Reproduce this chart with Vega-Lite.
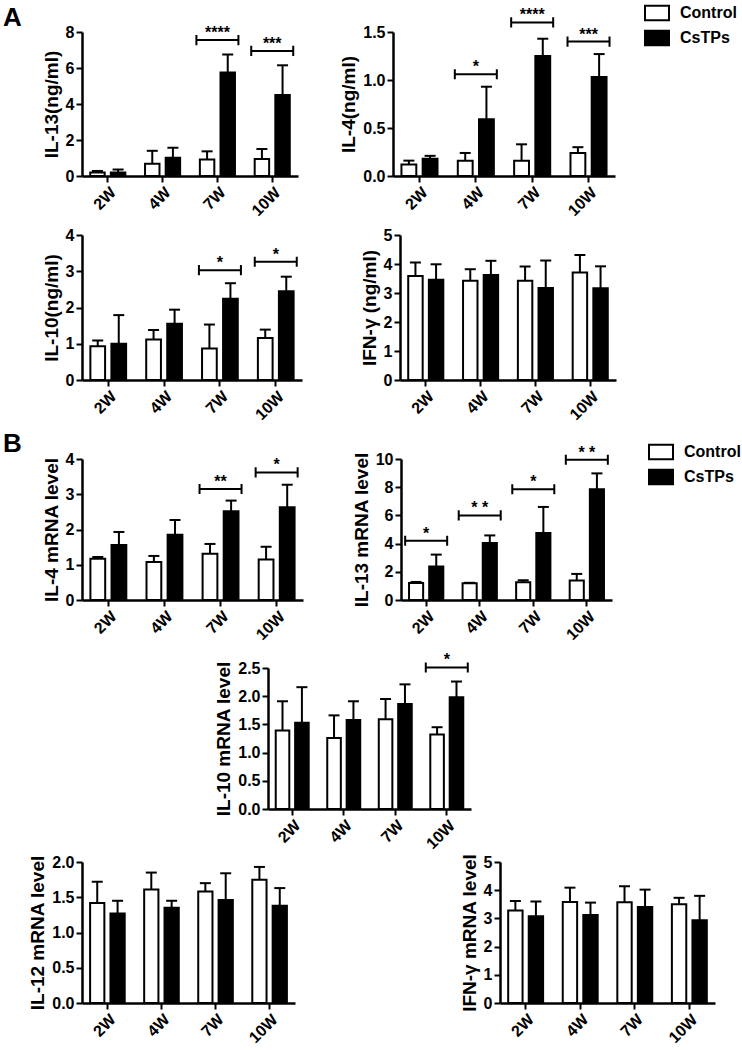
{
 "$schema": "https://vega.github.io/schema/vega-lite/v6.json",
 "padding": {"left": 3, "top": 0, "right": 0, "bottom": 0},
 "background": "white",
 "config": {
  "font": "Liberation Sans",
  "view": {"stroke": null},
  "axis": {"domainColor": "black", "domainWidth": 2.5, "tickColor": "black", "tickWidth": 2, "tickSize": 6, "labelFont": "Liberation Sans", "labelFontSize": 16, "labelFontWeight": "bold", "labelColor": "black", "labelPadding": 2, "labelOverlap": false, "labelFlush": false, "titleFont": "Liberation Sans", "titleFontSize": 19, "titleFontWeight": "bold", "titleColor": "black", "titlePadding": 4, "grid": false},
  "axisX": {"labelAngle": -45},
  "legend": {"symbolType": "M-1,-0.6H1V0.6H-1Z", "symbolSize": 576, "symbolStrokeColor": "black", "symbolStrokeWidth": 2, "labelFont": "Liberation Sans", "labelFontSize": 16, "labelFontWeight": "bold", "labelColor": "black", "rowPadding": 0, "labelOffset": 10, "padding": 0},
  "title": {"font": "Liberation Sans", "fontSize": 26, "fontWeight": "bold", "color": "black", "anchor": "start", "frame": "group", "offset": 0, "baseline": "alphabetic"}
 },
 "datasets": {
  "d": [
   {"panel": "a1", "week": "2W", "group": "Control", "mean": 0.2, "hi": 0.28},
   {"panel": "a1", "week": "2W", "group": "CsTPs", "mean": 0.2, "hi": 0.36},
   {"panel": "a1", "week": "4W", "group": "Control", "mean": 0.68, "hi": 1.4},
   {"panel": "a1", "week": "4W", "group": "CsTPs", "mean": 1.02, "hi": 1.57},
   {"panel": "a1", "week": "7W", "group": "Control", "mean": 0.92, "hi": 1.37},
   {"panel": "a1", "week": "7W", "group": "CsTPs", "mean": 5.75, "hi": 6.75, "bracket": 7.55, "stars": "****"},
   {"panel": "a1", "week": "10W", "group": "Control", "mean": 0.95, "hi": 1.5},
   {"panel": "a1", "week": "10W", "group": "CsTPs", "mean": 4.5, "hi": 6.15, "bracket": 6.95, "stars": "***"},

   {"panel": "a2", "week": "2W", "group": "Control", "mean": 0.12, "hi": 0.16},
   {"panel": "a2", "week": "2W", "group": "CsTPs", "mean": 0.18, "hi": 0.21},
   {"panel": "a2", "week": "4W", "group": "Control", "mean": 0.16, "hi": 0.24},
   {"panel": "a2", "week": "4W", "group": "CsTPs", "mean": 0.59, "hi": 0.93, "bracket": 1.06, "stars": "*"},
   {"panel": "a2", "week": "7W", "group": "Control", "mean": 0.16, "hi": 0.33},
   {"panel": "a2", "week": "7W", "group": "CsTPs", "mean": 1.25, "hi": 1.43, "bracket": 1.6, "stars": "****"},
   {"panel": "a2", "week": "10W", "group": "Control", "mean": 0.24, "hi": 0.3},
   {"panel": "a2", "week": "10W", "group": "CsTPs", "mean": 1.03, "hi": 1.27, "bracket": 1.4, "stars": "***"},

   {"panel": "a3", "week": "2W", "group": "Control", "mean": 0.93, "hi": 1.09},
   {"panel": "a3", "week": "2W", "group": "CsTPs", "mean": 1.0, "hi": 1.79},
   {"panel": "a3", "week": "4W", "group": "Control", "mean": 1.12, "hi": 1.38},
   {"panel": "a3", "week": "4W", "group": "CsTPs", "mean": 1.55, "hi": 1.94},
   {"panel": "a3", "week": "7W", "group": "Control", "mean": 0.87, "hi": 1.53},
   {"panel": "a3", "week": "7W", "group": "CsTPs", "mean": 2.24, "hi": 2.67, "bracket": 3.03, "stars": "*"},
   {"panel": "a3", "week": "10W", "group": "Control", "mean": 1.16, "hi": 1.39},
   {"panel": "a3", "week": "10W", "group": "CsTPs", "mean": 2.45, "hi": 2.85, "bracket": 3.26, "stars": "*"},

   {"panel": "a4", "week": "2W", "group": "Control", "mean": 3.59, "hi": 4.05},
   {"panel": "a4", "week": "2W", "group": "CsTPs", "mean": 3.46, "hi": 3.99},
   {"panel": "a4", "week": "4W", "group": "Control", "mean": 3.42, "hi": 3.82},
   {"panel": "a4", "week": "4W", "group": "CsTPs", "mean": 3.62, "hi": 4.11},
   {"panel": "a4", "week": "7W", "group": "Control", "mean": 3.42, "hi": 3.91},
   {"panel": "a4", "week": "7W", "group": "CsTPs", "mean": 3.17, "hi": 4.12},
   {"panel": "a4", "week": "10W", "group": "Control", "mean": 3.71, "hi": 4.31},
   {"panel": "a4", "week": "10W", "group": "CsTPs", "mean": 3.16, "hi": 3.92},

   {"panel": "b1", "week": "2W", "group": "Control", "mean": 1.17, "hi": 1.22},
   {"panel": "b1", "week": "2W", "group": "CsTPs", "mean": 1.56, "hi": 1.93},
   {"panel": "b1", "week": "4W", "group": "Control", "mean": 1.08, "hi": 1.25},
   {"panel": "b1", "week": "4W", "group": "CsTPs", "mean": 1.85, "hi": 2.27},
   {"panel": "b1", "week": "7W", "group": "Control", "mean": 1.31, "hi": 1.59},
   {"panel": "b1", "week": "7W", "group": "CsTPs", "mean": 2.52, "hi": 2.82, "bracket": 3.15, "stars": "**"},
   {"panel": "b1", "week": "10W", "group": "Control", "mean": 1.15, "hi": 1.51},
   {"panel": "b1", "week": "10W", "group": "CsTPs", "mean": 2.63, "hi": 3.27, "bracket": 3.62, "stars": "*"},

   {"panel": "b2", "week": "2W", "group": "Control", "mean": 1.2, "hi": 1.28},
   {"panel": "b2", "week": "2W", "group": "CsTPs", "mean": 2.37, "hi": 3.22, "bracket": 4.2, "stars": "*"},
   {"panel": "b2", "week": "4W", "group": "Control", "mean": 1.18, "hi": 1.22},
   {"panel": "b2", "week": "4W", "group": "CsTPs", "mean": 4.05, "hi": 4.58, "bracket": 6.0, "stars": "* *"},
   {"panel": "b2", "week": "7W", "group": "Control", "mean": 1.26, "hi": 1.4},
   {"panel": "b2", "week": "7W", "group": "CsTPs", "mean": 4.76, "hi": 6.6, "bracket": 7.85, "stars": "*"},
   {"panel": "b2", "week": "10W", "group": "Control", "mean": 1.38, "hi": 1.85},
   {"panel": "b2", "week": "10W", "group": "CsTPs", "mean": 7.85, "hi": 8.98, "bracket": 9.95, "stars": "* *"},

   {"panel": "b3", "week": "2W", "group": "Control", "mean": 1.39, "hi": 1.91},
   {"panel": "b3", "week": "2W", "group": "CsTPs", "mean": 1.53, "hi": 2.16},
   {"panel": "b3", "week": "4W", "group": "Control", "mean": 1.26, "hi": 1.66},
   {"panel": "b3", "week": "4W", "group": "CsTPs", "mean": 1.58, "hi": 1.91},
   {"panel": "b3", "week": "7W", "group": "Control", "mean": 1.59, "hi": 1.95},
   {"panel": "b3", "week": "7W", "group": "CsTPs", "mean": 1.86, "hi": 2.21},
   {"panel": "b3", "week": "10W", "group": "Control", "mean": 1.32, "hi": 1.45},
   {"panel": "b3", "week": "10W", "group": "CsTPs", "mean": 1.98, "hi": 2.26, "bracket": 2.51, "stars": "*"},

   {"panel": "b4", "week": "2W", "group": "Control", "mean": 1.42, "hi": 1.72},
   {"panel": "b4", "week": "2W", "group": "CsTPs", "mean": 1.27, "hi": 1.45},
   {"panel": "b4", "week": "4W", "group": "Control", "mean": 1.61, "hi": 1.85},
   {"panel": "b4", "week": "4W", "group": "CsTPs", "mean": 1.35, "hi": 1.45},
   {"panel": "b4", "week": "7W", "group": "Control", "mean": 1.58, "hi": 1.7},
   {"panel": "b4", "week": "7W", "group": "CsTPs", "mean": 1.46, "hi": 1.84},
   {"panel": "b4", "week": "10W", "group": "Control", "mean": 1.75, "hi": 1.93},
   {"panel": "b4", "week": "10W", "group": "CsTPs", "mean": 1.38, "hi": 1.63},

   {"panel": "b5", "week": "2W", "group": "Control", "mean": 3.28, "hi": 3.62},
   {"panel": "b5", "week": "2W", "group": "CsTPs", "mean": 3.08, "hi": 3.6},
   {"panel": "b5", "week": "4W", "group": "Control", "mean": 3.58, "hi": 4.09},
   {"panel": "b5", "week": "4W", "group": "CsTPs", "mean": 3.12, "hi": 3.56},
   {"panel": "b5", "week": "7W", "group": "Control", "mean": 3.57, "hi": 4.14},
   {"panel": "b5", "week": "7W", "group": "CsTPs", "mean": 3.4, "hi": 4.02},
   {"panel": "b5", "week": "10W", "group": "Control", "mean": 3.5, "hi": 3.73},
   {"panel": "b5", "week": "10W", "group": "CsTPs", "mean": 2.93, "hi": 3.8}
  ]
 },
 "resolve": {"scale": {"fill": "independent", "xOffset": "independent"}, "legend": {"fill": "independent"}},
 "spacing": 8,
 "vconcat": [
  {
   "hconcat": [
    {
     "width": 216, "height": 144,
     "title": {"text": "A", "dx": -79, "dy": 11},
     "data": {"name": "d"},
     "transform": [{"filter": "datum.panel === 'a1'"}],
     "encoding": {
      "x": {"field": "week", "type": "nominal", "sort": ["2W", "4W", "7W", "10W"], "scale": {"paddingInner": 0.36, "paddingOuter": 0.15}, "axis": {"title": null}},
      "y": {"field": "mean", "type": "quantitative", "scale": {"domain": [0, 8], "nice": false}, "axis": {"values": [0, 2, 4, 6, 8]}, "title": "IL-13(ng/ml)"}
     },
     "layer": [
      {"mark": {"type": "bar", "stroke": "black", "strokeWidth": 2}, "encoding": {"xOffset": {"field": "group", "type": "nominal", "sort": ["Control", "CsTPs"], "scale": {"paddingInner": 0.3, "paddingOuter": 0}}, "fill": {"field": "group", "type": "nominal", "scale": {"domain": ["Control", "CsTPs"], "range": ["white", "black"]}, "legend": null}}},
      {"mark": {"type": "rule", "color": "black", "strokeWidth": 2}, "encoding": {"xOffset": {"field": "group", "type": "nominal", "sort": ["Control", "CsTPs"], "scale": {"paddingInner": 0.3, "paddingOuter": 0}}, "y2": {"field": "hi"}}},
      {"mark": {"type": "tick", "color": "black", "thickness": 2, "size": 11, "opacity": 1}, "encoding": {"xOffset": {"field": "group", "type": "nominal", "sort": ["Control", "CsTPs"], "scale": {"paddingInner": 0.3, "paddingOuter": 0}}, "y": {"field": "hi", "type": "quantitative", "scale": {"domain": [0, 8], "nice": false}, "axis": {"values": [0, 2, 4, 6, 8]}, "title": "IL-13(ng/ml)"}}},
      {"transform": [{"filter": "isValid(datum.bracket)"}], "mark": {"type": "point", "shape": "M-1,-0.24V0.24M-1,0H1M1,-0.24V0.24", "size": 1764, "color": "black", "strokeWidth": 2, "filled": false, "opacity": 1}, "encoding": {"y": {"field": "bracket", "type": "quantitative", "scale": {"domain": [0, 8], "nice": false}, "axis": {"values": [0, 2, 4, 6, 8]}, "title": "IL-13(ng/ml)"}}},
      {"transform": [{"filter": "isValid(datum.bracket)"}], "mark": {"type": "text", "font": "Liberation Sans", "fontSize": 16, "fontWeight": "bold", "color": "black", "baseline": "alphabetic", "dy": -2}, "encoding": {"y": {"field": "bracket", "type": "quantitative", "scale": {"domain": [0, 8], "nice": false}, "axis": {"values": [0, 2, 4, 6, 8]}, "title": "IL-13(ng/ml)"}, "text": {"field": "stars"}}}
     ]
    },
    {
     "width": 222, "height": 144,
     "data": {"name": "d"},
     "transform": [{"filter": "datum.panel === 'a2'"}],
     "encoding": {
      "x": {"field": "week", "type": "nominal", "sort": ["2W", "4W", "7W", "10W"], "scale": {"paddingInner": 0.36, "paddingOuter": 0.15}, "axis": {"title": null}},
      "y": {"field": "mean", "type": "quantitative", "scale": {"domain": [0, 1.5], "nice": false}, "axis": {"values": [0, 0.5, 1, 1.5], "format": ".1f"}, "title": "IL-4(ng/ml)"}
     },
     "layer": [
      {"mark": {"type": "bar", "stroke": "black", "strokeWidth": 2}, "encoding": {"xOffset": {"field": "group", "type": "nominal", "sort": ["Control", "CsTPs"], "scale": {"paddingInner": 0.3, "paddingOuter": 0}}, "fill": {"field": "group", "type": "nominal", "scale": {"domain": ["Control", "CsTPs"], "range": ["white", "black"]}, "legend": {"title": null, "orient": "none", "legendX": 251, "legendY": -32}}}},
      {"mark": {"type": "rule", "color": "black", "strokeWidth": 2}, "encoding": {"xOffset": {"field": "group", "type": "nominal", "sort": ["Control", "CsTPs"], "scale": {"paddingInner": 0.3, "paddingOuter": 0}}, "y2": {"field": "hi"}}},
      {"mark": {"type": "tick", "color": "black", "thickness": 2, "size": 11, "opacity": 1}, "encoding": {"xOffset": {"field": "group", "type": "nominal", "sort": ["Control", "CsTPs"], "scale": {"paddingInner": 0.3, "paddingOuter": 0}}, "y": {"field": "hi", "type": "quantitative", "scale": {"domain": [0, 1.5], "nice": false}, "axis": {"values": [0, 0.5, 1, 1.5], "format": ".1f"}, "title": "IL-4(ng/ml)"}}},
      {"transform": [{"filter": "isValid(datum.bracket)"}], "mark": {"type": "point", "shape": "M-1,-0.24V0.24M-1,0H1M1,-0.24V0.24", "size": 1764, "color": "black", "strokeWidth": 2, "filled": false, "opacity": 1}, "encoding": {"y": {"field": "bracket", "type": "quantitative", "scale": {"domain": [0, 1.5], "nice": false}, "axis": {"values": [0, 0.5, 1, 1.5], "format": ".1f"}, "title": "IL-4(ng/ml)"}}},
      {"transform": [{"filter": "isValid(datum.bracket)"}], "mark": {"type": "text", "font": "Liberation Sans", "fontSize": 16, "fontWeight": "bold", "color": "black", "baseline": "alphabetic", "dy": -2}, "encoding": {"y": {"field": "bracket", "type": "quantitative", "scale": {"domain": [0, 1.5], "nice": false}, "axis": {"values": [0, 0.5, 1, 1.5], "format": ".1f"}, "title": "IL-4(ng/ml)"}, "text": {"field": "stars"}}}
     ]
    }
   ],
   "spacing": 41,
   "resolve": {"scale": {"fill": "independent", "xOffset": "independent"}, "legend": {"fill": "independent"}}
  },
  {
   "vconcat": [
    {
     "hconcat": [
      {
       "width": 220, "height": 145,
       "data": {"name": "d"},
       "transform": [{"filter": "datum.panel === 'a3'"}],
       "encoding": {
        "x": {"field": "week", "type": "nominal", "sort": ["2W", "4W", "7W", "10W"], "scale": {"paddingInner": 0.36, "paddingOuter": 0.15}, "axis": {"title": null}},
        "y": {"field": "mean", "type": "quantitative", "scale": {"domain": [0, 4], "nice": false}, "axis": {"values": [0, 1, 2, 3, 4]}, "title": "IL-10(ng/ml)"}
       },
       "layer": [
        {"mark": {"type": "bar", "stroke": "black", "strokeWidth": 2}, "encoding": {"xOffset": {"field": "group", "type": "nominal", "sort": ["Control", "CsTPs"], "scale": {"paddingInner": 0.3, "paddingOuter": 0}}, "fill": {"field": "group", "type": "nominal", "scale": {"domain": ["Control", "CsTPs"], "range": ["white", "black"]}, "legend": null}}},
        {"mark": {"type": "rule", "color": "black", "strokeWidth": 2}, "encoding": {"xOffset": {"field": "group", "type": "nominal", "sort": ["Control", "CsTPs"], "scale": {"paddingInner": 0.3, "paddingOuter": 0}}, "y2": {"field": "hi"}}},
        {"mark": {"type": "tick", "color": "black", "thickness": 2, "size": 11, "opacity": 1}, "encoding": {"xOffset": {"field": "group", "type": "nominal", "sort": ["Control", "CsTPs"], "scale": {"paddingInner": 0.3, "paddingOuter": 0}}, "y": {"field": "hi", "type": "quantitative", "scale": {"domain": [0, 4], "nice": false}, "axis": {"values": [0, 1, 2, 3, 4]}, "title": "IL-10(ng/ml)"}}},
        {"transform": [{"filter": "isValid(datum.bracket)"}], "mark": {"type": "point", "shape": "M-1,-0.24V0.24M-1,0H1M1,-0.24V0.24", "size": 1764, "color": "black", "strokeWidth": 2, "filled": false, "opacity": 1}, "encoding": {"y": {"field": "bracket", "type": "quantitative", "scale": {"domain": [0, 4], "nice": false}, "axis": {"values": [0, 1, 2, 3, 4]}, "title": "IL-10(ng/ml)"}}},
        {"transform": [{"filter": "isValid(datum.bracket)"}], "mark": {"type": "text", "font": "Liberation Sans", "fontSize": 16, "fontWeight": "bold", "color": "black", "baseline": "alphabetic", "dy": -2}, "encoding": {"y": {"field": "bracket", "type": "quantitative", "scale": {"domain": [0, 4], "nice": false}, "axis": {"values": [0, 1, 2, 3, 4]}, "title": "IL-10(ng/ml)"}, "text": {"field": "stars"}}}
       ]
      },
      {
       "width": 216, "height": 145,
       "data": {"name": "d"},
       "transform": [{"filter": "datum.panel === 'a4'"}],
       "encoding": {
        "x": {"field": "week", "type": "nominal", "sort": ["2W", "4W", "7W", "10W"], "scale": {"paddingInner": 0.36, "paddingOuter": 0.15}, "axis": {"title": null}},
        "y": {"field": "mean", "type": "quantitative", "scale": {"domain": [0, 5], "nice": false}, "axis": {"values": [0, 1, 2, 3, 4, 5]}, "title": "IFN-γ (ng/ml)"}
       },
       "layer": [
        {"mark": {"type": "bar", "stroke": "black", "strokeWidth": 2}, "encoding": {"xOffset": {"field": "group", "type": "nominal", "sort": ["Control", "CsTPs"], "scale": {"paddingInner": 0.3, "paddingOuter": 0}}, "fill": {"field": "group", "type": "nominal", "scale": {"domain": ["Control", "CsTPs"], "range": ["white", "black"]}, "legend": null}}},
        {"mark": {"type": "rule", "color": "black", "strokeWidth": 2}, "encoding": {"xOffset": {"field": "group", "type": "nominal", "sort": ["Control", "CsTPs"], "scale": {"paddingInner": 0.3, "paddingOuter": 0}}, "y2": {"field": "hi"}}},
        {"mark": {"type": "tick", "color": "black", "thickness": 2, "size": 11, "opacity": 1}, "encoding": {"xOffset": {"field": "group", "type": "nominal", "sort": ["Control", "CsTPs"], "scale": {"paddingInner": 0.3, "paddingOuter": 0}}, "y": {"field": "hi", "type": "quantitative", "scale": {"domain": [0, 5], "nice": false}, "axis": {"values": [0, 1, 2, 3, 4, 5]}, "title": "IFN-γ (ng/ml)"}}}
       ]
      }
     ],
     "spacing": 58,
     "resolve": {"scale": {"fill": "independent", "xOffset": "independent"}, "legend": {"fill": "independent"}}
    },
    {
     "vconcat": [
      {
       "hconcat": [
        {
         "width": 221, "height": 141,
         "title": {"text": "B", "dx": -79, "dy": 10},
         "data": {"name": "d"},
         "transform": [{"filter": "datum.panel === 'b1'"}],
         "encoding": {
          "x": {"field": "week", "type": "nominal", "sort": ["2W", "4W", "7W", "10W"], "scale": {"paddingInner": 0.36, "paddingOuter": 0.15}, "axis": {"title": null}},
          "y": {"field": "mean", "type": "quantitative", "scale": {"domain": [0, 4], "nice": false}, "axis": {"values": [0, 1, 2, 3, 4]}, "title": "IL-4 mRNA level"}
         },
         "layer": [
          {"mark": {"type": "bar", "stroke": "black", "strokeWidth": 2}, "encoding": {"xOffset": {"field": "group", "type": "nominal", "sort": ["Control", "CsTPs"], "scale": {"paddingInner": 0.3, "paddingOuter": 0}}, "fill": {"field": "group", "type": "nominal", "scale": {"domain": ["Control", "CsTPs"], "range": ["white", "black"]}, "legend": null}}},
          {"mark": {"type": "rule", "color": "black", "strokeWidth": 2}, "encoding": {"xOffset": {"field": "group", "type": "nominal", "sort": ["Control", "CsTPs"], "scale": {"paddingInner": 0.3, "paddingOuter": 0}}, "y2": {"field": "hi"}}},
          {"mark": {"type": "tick", "color": "black", "thickness": 2, "size": 11, "opacity": 1}, "encoding": {"xOffset": {"field": "group", "type": "nominal", "sort": ["Control", "CsTPs"], "scale": {"paddingInner": 0.3, "paddingOuter": 0}}, "y": {"field": "hi", "type": "quantitative", "scale": {"domain": [0, 4], "nice": false}, "axis": {"values": [0, 1, 2, 3, 4]}, "title": "IL-4 mRNA level"}}},
          {"transform": [{"filter": "isValid(datum.bracket)"}], "mark": {"type": "point", "shape": "M-1,-0.24V0.24M-1,0H1M1,-0.24V0.24", "size": 1764, "color": "black", "strokeWidth": 2, "filled": false, "opacity": 1}, "encoding": {"y": {"field": "bracket", "type": "quantitative", "scale": {"domain": [0, 4], "nice": false}, "axis": {"values": [0, 1, 2, 3, 4]}, "title": "IL-4 mRNA level"}}},
          {"transform": [{"filter": "isValid(datum.bracket)"}], "mark": {"type": "text", "font": "Liberation Sans", "fontSize": 16, "fontWeight": "bold", "color": "black", "baseline": "alphabetic", "dy": -2}, "encoding": {"y": {"field": "bracket", "type": "quantitative", "scale": {"domain": [0, 4], "nice": false}, "axis": {"values": [0, 1, 2, 3, 4]}, "title": "IL-4 mRNA level"}, "text": {"field": "stars"}}}
         ]
        },
        {
         "width": 211, "height": 141,
         "data": {"name": "d"},
         "transform": [{"filter": "datum.panel === 'b2'"}],
         "encoding": {
          "x": {"field": "week", "type": "nominal", "sort": ["2W", "4W", "7W", "10W"], "scale": {"paddingInner": 0.36, "paddingOuter": 0.15}, "axis": {"title": null}},
          "y": {"field": "mean", "type": "quantitative", "scale": {"domain": [0, 10], "nice": false}, "axis": {"values": [0, 2, 4, 6, 8, 10]}, "title": "IL-13 mRNA level"}
         },
         "layer": [
          {"mark": {"type": "bar", "stroke": "black", "strokeWidth": 2}, "encoding": {"xOffset": {"field": "group", "type": "nominal", "sort": ["Control", "CsTPs"], "scale": {"paddingInner": 0.3, "paddingOuter": 0}}, "fill": {"field": "group", "type": "nominal", "scale": {"domain": ["Control", "CsTPs"], "range": ["white", "black"]}, "legend": {"title": null, "orient": "none", "legendX": 247, "legendY": -20}}}},
          {"mark": {"type": "rule", "color": "black", "strokeWidth": 2}, "encoding": {"xOffset": {"field": "group", "type": "nominal", "sort": ["Control", "CsTPs"], "scale": {"paddingInner": 0.3, "paddingOuter": 0}}, "y2": {"field": "hi"}}},
          {"mark": {"type": "tick", "color": "black", "thickness": 2, "size": 11, "opacity": 1}, "encoding": {"xOffset": {"field": "group", "type": "nominal", "sort": ["Control", "CsTPs"], "scale": {"paddingInner": 0.3, "paddingOuter": 0}}, "y": {"field": "hi", "type": "quantitative", "scale": {"domain": [0, 10], "nice": false}, "axis": {"values": [0, 2, 4, 6, 8, 10]}, "title": "IL-13 mRNA level"}}},
          {"transform": [{"filter": "isValid(datum.bracket)"}], "mark": {"type": "point", "shape": "M-1,-0.24V0.24M-1,0H1M1,-0.24V0.24", "size": 1764, "color": "black", "strokeWidth": 2, "filled": false, "opacity": 1}, "encoding": {"y": {"field": "bracket", "type": "quantitative", "scale": {"domain": [0, 10], "nice": false}, "axis": {"values": [0, 2, 4, 6, 8, 10]}, "title": "IL-13 mRNA level"}}},
          {"transform": [{"filter": "isValid(datum.bracket)"}], "mark": {"type": "text", "font": "Liberation Sans", "fontSize": 16, "fontWeight": "bold", "color": "black", "baseline": "alphabetic", "dy": -2}, "encoding": {"y": {"field": "bracket", "type": "quantitative", "scale": {"domain": [0, 10], "nice": false}, "axis": {"values": [0, 2, 4, 6, 8, 10]}, "title": "IL-13 mRNA level"}, "text": {"field": "stars"}}}
         ]
        }
       ],
       "spacing": 49,
       "resolve": {"scale": {"fill": "independent", "xOffset": "independent"}, "legend": {"fill": "independent"}}
      },
      {
       "vconcat": [
        {
         "hconcat": [
          {"width": 132, "height": 10, "data": {"values": []}, "mark": {"type": "point", "opacity": 0}},
          {
           "width": 203, "height": 141,
           "data": {"name": "d"},
           "transform": [{"filter": "datum.panel === 'b3'"}],
           "encoding": {
            "x": {"field": "week", "type": "nominal", "sort": ["2W", "4W", "7W", "10W"], "scale": {"paddingInner": 0.36, "paddingOuter": 0.15}, "axis": {"title": null}},
            "y": {"field": "mean", "type": "quantitative", "scale": {"domain": [0, 2.5], "nice": false}, "axis": {"values": [0, 0.5, 1, 1.5, 2, 2.5], "format": ".1f"}, "title": "IL-10 mRNA level"}
           },
           "layer": [
            {"mark": {"type": "bar", "stroke": "black", "strokeWidth": 2}, "encoding": {"xOffset": {"field": "group", "type": "nominal", "sort": ["Control", "CsTPs"], "scale": {"paddingInner": 0.3, "paddingOuter": 0}}, "fill": {"field": "group", "type": "nominal", "scale": {"domain": ["Control", "CsTPs"], "range": ["white", "black"]}, "legend": null}}},
            {"mark": {"type": "rule", "color": "black", "strokeWidth": 2}, "encoding": {"xOffset": {"field": "group", "type": "nominal", "sort": ["Control", "CsTPs"], "scale": {"paddingInner": 0.3, "paddingOuter": 0}}, "y2": {"field": "hi"}}},
            {"mark": {"type": "tick", "color": "black", "thickness": 2, "size": 11, "opacity": 1}, "encoding": {"xOffset": {"field": "group", "type": "nominal", "sort": ["Control", "CsTPs"], "scale": {"paddingInner": 0.3, "paddingOuter": 0}}, "y": {"field": "hi", "type": "quantitative", "scale": {"domain": [0, 2.5], "nice": false}, "axis": {"values": [0, 0.5, 1, 1.5, 2, 2.5], "format": ".1f"}, "title": "IL-10 mRNA level"}}},
            {"transform": [{"filter": "isValid(datum.bracket)"}], "mark": {"type": "point", "shape": "M-1,-0.24V0.24M-1,0H1M1,-0.24V0.24", "size": 1764, "color": "black", "strokeWidth": 2, "filled": false, "opacity": 1}, "encoding": {"y": {"field": "bracket", "type": "quantitative", "scale": {"domain": [0, 2.5], "nice": false}, "axis": {"values": [0, 0.5, 1, 1.5, 2, 2.5], "format": ".1f"}, "title": "IL-10 mRNA level"}}},
            {"transform": [{"filter": "isValid(datum.bracket)"}], "mark": {"type": "text", "font": "Liberation Sans", "fontSize": 16, "fontWeight": "bold", "color": "black", "baseline": "alphabetic", "dy": -2}, "encoding": {"y": {"field": "bracket", "type": "quantitative", "scale": {"domain": [0, 2.5], "nice": false}, "axis": {"values": [0, 0.5, 1, 1.5, 2, 2.5], "format": ".1f"}, "title": "IL-10 mRNA level"}, "text": {"field": "stars"}}}
           ]
          }
         ],
         "spacing": 0,
         "resolve": {"scale": {"fill": "independent", "xOffset": "independent"}, "legend": {"fill": "independent"}}
        },
        {
         "hconcat": [
          {
           "width": 213, "height": 141,
           "data": {"name": "d"},
           "transform": [{"filter": "datum.panel === 'b4'"}],
           "encoding": {
            "x": {"field": "week", "type": "nominal", "sort": ["2W", "4W", "7W", "10W"], "scale": {"paddingInner": 0.36, "paddingOuter": 0.15}, "axis": {"title": null}},
            "y": {"field": "mean", "type": "quantitative", "scale": {"domain": [0, 2], "nice": false}, "axis": {"values": [0, 0.5, 1, 1.5, 2], "format": ".1f"}, "title": "IL-12 mRNA level"}
           },
           "layer": [
            {"mark": {"type": "bar", "stroke": "black", "strokeWidth": 2}, "encoding": {"xOffset": {"field": "group", "type": "nominal", "sort": ["Control", "CsTPs"], "scale": {"paddingInner": 0.3, "paddingOuter": 0}}, "fill": {"field": "group", "type": "nominal", "scale": {"domain": ["Control", "CsTPs"], "range": ["white", "black"]}, "legend": null}}},
            {"mark": {"type": "rule", "color": "black", "strokeWidth": 2}, "encoding": {"xOffset": {"field": "group", "type": "nominal", "sort": ["Control", "CsTPs"], "scale": {"paddingInner": 0.3, "paddingOuter": 0}}, "y2": {"field": "hi"}}},
            {"mark": {"type": "tick", "color": "black", "thickness": 2, "size": 11, "opacity": 1}, "encoding": {"xOffset": {"field": "group", "type": "nominal", "sort": ["Control", "CsTPs"], "scale": {"paddingInner": 0.3, "paddingOuter": 0}}, "y": {"field": "hi", "type": "quantitative", "scale": {"domain": [0, 2], "nice": false}, "axis": {"values": [0, 0.5, 1, 1.5, 2], "format": ".1f"}, "title": "IL-12 mRNA level"}}}
           ]
          },
          {
           "width": 215, "height": 141,
           "data": {"name": "d"},
           "transform": [{"filter": "datum.panel === 'b5'"}],
           "encoding": {
            "x": {"field": "week", "type": "nominal", "sort": ["2W", "4W", "7W", "10W"], "scale": {"paddingInner": 0.36, "paddingOuter": 0.15}, "axis": {"title": null}},
            "y": {"field": "mean", "type": "quantitative", "scale": {"domain": [0, 5], "nice": false}, "axis": {"values": [0, 1, 2, 3, 4, 5]}, "title": "IFN-γ mRNA level"}
           },
           "layer": [
            {"mark": {"type": "bar", "stroke": "black", "strokeWidth": 2}, "encoding": {"xOffset": {"field": "group", "type": "nominal", "sort": ["Control", "CsTPs"], "scale": {"paddingInner": 0.3, "paddingOuter": 0}}, "fill": {"field": "group", "type": "nominal", "scale": {"domain": ["Control", "CsTPs"], "range": ["white", "black"]}, "legend": null}}},
            {"mark": {"type": "rule", "color": "black", "strokeWidth": 2}, "encoding": {"xOffset": {"field": "group", "type": "nominal", "sort": ["Control", "CsTPs"], "scale": {"paddingInner": 0.3, "paddingOuter": 0}}, "y2": {"field": "hi"}}},
            {"mark": {"type": "tick", "color": "black", "thickness": 2, "size": 11, "opacity": 1}, "encoding": {"xOffset": {"field": "group", "type": "nominal", "sort": ["Control", "CsTPs"], "scale": {"paddingInner": 0.3, "paddingOuter": 0}}, "y": {"field": "hi", "type": "quantitative", "scale": {"domain": [0, 5], "nice": false}, "axis": {"values": [0, 1, 2, 3, 4, 5]}, "title": "IFN-γ mRNA level"}}}
           ]
          }
         ],
         "spacing": 165,
         "resolve": {"scale": {"fill": "independent", "xOffset": "independent"}, "legend": {"fill": "independent"}}
        }
       ],
       "spacing": 1,
       "resolve": {"scale": {"fill": "independent", "xOffset": "independent"}, "legend": {"fill": "independent"}}
      }
     ],
     "spacing": 9,
     "resolve": {"scale": {"fill": "independent", "xOffset": "independent"}, "legend": {"fill": "independent"}}
    }
   ],
   "spacing": 8,
   "resolve": {"scale": {"fill": "independent", "xOffset": "independent"}, "legend": {"fill": "independent"}}
  }
 ]
}
